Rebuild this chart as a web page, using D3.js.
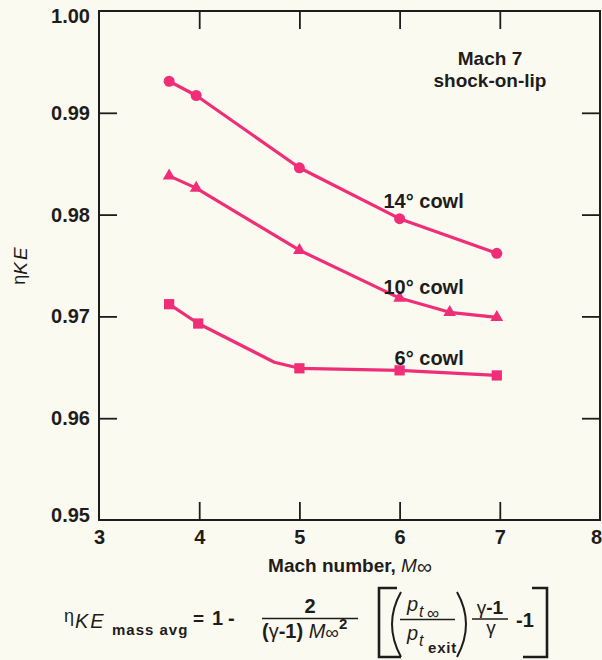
<!DOCTYPE html>
<html>
<head>
<meta charset="utf-8">
<script src="https://cdn.jsdelivr.net/npm/d3@7"></script>
<style>
  html, body { margin: 0; padding: 0; background: #fbfaf1; }
  svg { display: block; }
  text { font-family: "Liberation Sans", Arial, Helvetica, sans-serif; fill: #1f1d1b; }
</style>
</head>
<body>
<svg id="chart" width="602" height="660"></svg>
<script>
// Axis ticks
const machTicks = [3, 4, 5, 6, 7, 8];
const etaTicks = [0.95, 0.96, 0.97, 0.98, 0.99, 1.00];

// Kinetic-energy efficiency vs free-stream Mach number, one series per cowl angle
const cowl14Mach = [3.70, 3.97, 5.00, 6.00, 6.97];
const cowl14Eta  = [0.9931, 0.9917, 0.9846, 0.9796, 0.9762];

const cowl10Mach = [3.70, 3.97, 5.00, 6.00, 6.50, 6.97];
const cowl10Eta  = [0.9838, 0.9826, 0.9765, 0.9718, 0.9704, 0.9699];

const cowl6Mach = [3.70, 3.99, 5.00, 6.00, 6.97];
const cowl6Eta  = [0.9712, 0.9693, 0.9649, 0.9647, 0.9642];
// faired curve for the 6 deg cowl bends near M = 4.75 before levelling off
const cowl6FairMach = [3.70, 3.99, 4.75, 5.00, 6.00, 6.97];
const cowl6FairEta  = [0.9712, 0.9693, 0.9655, 0.9649, 0.9647, 0.9642];

const seriesLabels = ["14\u00B0 cowl", "10\u00B0 cowl", "6\u00B0 cowl"];

const pink = "#f02e78";
const ink = "#1f1d1b";

const svg = d3.select("#chart");
const plot = { left: 99, right: 600, top: 11, bottom: 520 };

const x = d3.scaleLinear().domain([3, 8]).range([plot.left, plot.right]);
const y = d3.scaleLinear().domain([0.95, 1.00]).range([plot.bottom, plot.top]);

const zip = (xs, ys) => xs.map((m, i) => ({ m, v: ys[i] }));

// ---- axes (inward ticks on all four sides) ----
const tickLen = 18;
const bottomAxis = d3.axisBottom(x).tickValues(machTicks).tickFormat(d3.format("d"))
  .tickSizeInner(-tickLen).tickSizeOuter(0).tickPadding(10);
const leftAxis = d3.axisLeft(y).tickValues(etaTicks).tickFormat(d3.format(".2f"))
  .tickSizeInner(-tickLen).tickSizeOuter(0).tickPadding(9);
const topAxis = d3.axisTop(x).tickValues(machTicks.slice(1, -1)).tickFormat("")
  .tickSizeInner(-tickLen).tickSizeOuter(0);
const rightAxis = d3.axisRight(y).tickValues(etaTicks.slice(1, -1)).tickFormat("")
  .tickSizeInner(-tickLen).tickSizeOuter(0);

function styleAxis(g) {
  g.select(".domain").remove();
  g.selectAll(".tick line").attr("stroke", ink).attr("stroke-width", 1.8);
  g.selectAll(".tick text")
    .attr("fill", ink)
    .style("font-size", "20px")
    .style("font-weight", "bold")
    .style("font-family", "'Liberation Sans', Arial, Helvetica, sans-serif");
}

const gB = svg.append("g").attr("transform", `translate(0,${plot.bottom})`).call(bottomAxis).call(styleAxis);
const gL = svg.append("g").attr("transform", `translate(${plot.left},0)`).call(leftAxis).call(styleAxis);
svg.append("g").attr("transform", `translate(0,${plot.top})`).call(topAxis).call(styleAxis);
svg.append("g").attr("transform", `translate(${plot.right},0)`).call(rightAxis).call(styleAxis);

// end labels sit just inside the frame corners
gL.selectAll(".tick").filter(d => d === 1.00).select("text").attr("y", 5.5);
gL.selectAll(".tick").filter(d => d === 0.95).select("text").attr("y", -5);
gB.selectAll(".tick").filter(d => d === 8).select("text").attr("x", -4);
gB.selectAll(".tick line").filter(d => d === 3 || d === 8).remove();
gL.selectAll(".tick line").filter(d => d === 0.95 || d === 1.00).remove();

// frame
svg.append("rect")
  .attr("x", plot.left).attr("y", plot.top)
  .attr("width", plot.right - plot.left).attr("height", plot.bottom - plot.top)
  .attr("fill", "none").attr("stroke", ink).attr("stroke-width", 2);

// ---- data lines ----
const line = d3.line().x(d => x(d.m)).y(d => y(d.v));

const lines = svg.append("g").attr("fill", "none").attr("stroke", pink)
  .attr("stroke-width", 3.2).attr("stroke-linejoin", "round").attr("stroke-linecap", "round");
lines.append("path").attr("d", line(zip(cowl14Mach, cowl14Eta)));
lines.append("path").attr("d", line(zip(cowl10Mach, cowl10Eta)));
lines.append("path").attr("d", line(zip(cowl6FairMach, cowl6FairEta)));

// ---- markers ----
const marks = svg.append("g").attr("fill", pink);
marks.selectAll("circle").data(zip(cowl14Mach, cowl14Eta)).join("circle")
  .attr("cx", d => x(d.m)).attr("cy", d => y(d.v)).attr("r", 5.5);
marks.selectAll("path.tri").data(zip(cowl10Mach, cowl10Eta)).join("path").attr("class", "tri")
  .attr("transform", d => `translate(${x(d.m)},${y(d.v)})`)
  .attr("d", d3.symbol(d3.symbolTriangle, 70));
marks.selectAll("path.sq").data(zip(cowl6Mach, cowl6Eta)).join("path").attr("class", "sq")
  .attr("transform", d => `translate(${x(d.m)},${y(d.v)})`)
  .attr("d", d3.symbol(d3.symbolSquare, 105));

// ---- series labels ----
const labelAnchors = [
  { m: 6.64, v: 0.9806 },
  { m: 6.64, v: 0.9722 },
  { m: 6.64, v: 0.9652 }
];
svg.append("g").selectAll("text").data(seriesLabels).join("text")
  .attr("x", (d, i) => x(labelAnchors[i].m))
  .attr("y", (d, i) => y(labelAnchors[i].v))
  .attr("text-anchor", "end")
  .style("font-size", "20px").style("font-weight", "bold")
  .text(d => d);

// condition note
const note = svg.append("text").attr("text-anchor", "middle")
  .style("font-size", "19px").style("font-weight", "bold");
note.append("tspan").attr("x", 490).attr("y", 65).text("Mach 7");
note.append("tspan").attr("x", 490).attr("y", 87).text("shock-on-lip");

// ---- axis titles ----
const xt = svg.append("text").attr("x", 350).attr("y", 572).attr("text-anchor", "middle")
  .style("font-size", "19px").style("font-weight", "bold");
xt.append("tspan").text("Mach number, ");
xt.append("tspan").style("font-style", "italic").style("font-weight", "normal").text("M");
xt.append("tspan").style("font-weight", "normal").style("font-size", "21px").attr("dy", 2).text("\u221E");

const yt = svg.append("text").attr("transform", "translate(27,265) rotate(-90)")
  .attr("text-anchor", "middle").style("font-size", "19px");
yt.append("tspan").attr("dy", -2).style("font-size", "18px").text("\u03B7");
yt.append("tspan").attr("dy", 2).style("font-style", "italic").attr("letter-spacing", 2).text("KE");

// ---- defining relation below the chart ----
const eq = svg.append("g");
const txt = (xx, yy, s, size, opts = {}) => {
  const t = eq.append("text").attr("x", xx).attr("y", yy).style("font-size", size + "px")
    .style("font-weight", opts.weight || "bold").style("font-style", opts.italic ? "italic" : "normal")
    .attr("text-anchor", opts.anchor || "start").text(s);
  if (opts.ls) t.attr("letter-spacing", opts.ls);
  return t;
};
// left-hand side
txt(64, 622, "\u03B7", 18, { weight: "normal" });
txt(75, 628, "KE", 20, { weight: "normal", italic: true, ls: 2 });
txt(112, 635, "mass avg", 15, { ls: 1 });
txt(193, 625, "=", 19);
txt(212, 625, "1", 20);
txt(228, 625, "-", 20);

// first fraction
txt(310, 613, "2", 20, { anchor: "middle" });
eq.append("line").attr("x1", 262).attr("x2", 358).attr("y1", 618.5).attr("y2", 618.5)
  .attr("stroke", ink).attr("stroke-width", 1.6);
const den = eq.append("text").attr("x", 262).attr("y", 638).style("font-size", "20px").style("font-weight", "bold");
den.append("tspan").text("(");
den.append("tspan").style("font-weight", "normal").text("\u03B3");
den.append("tspan").text("-1) ");
den.append("tspan").style("font-weight", "normal").style("font-style", "italic").text("M");
den.append("tspan").style("font-weight", "normal").style("font-size", "19px").attr("dy", 1).text("\u221E");
den.append("tspan").style("font-size", "15px").attr("dy", -10).text("2");

// square brackets
const bracket = eq.append("g").attr("fill", "none").attr("stroke", ink).attr("stroke-width", 2.6);
bracket.append("path").attr("d", "M397,588 H379 V657 H401");
bracket.append("path").attr("d", "M532,588 H547 V657 H523");

// parentheses around pressure ratio
const paren = eq.append("g").attr("fill", "none").attr("stroke", ink).attr("stroke-width", 2);
paren.append("path").attr("d", "M401,592 Q383,624 401,657");
paren.append("path").attr("d", "M457,592 Q475,624 457,657");

// pressure ratio
txt(407, 611, "p", 20, { weight: "normal", italic: true });
txt(419, 617, "t", 16, { weight: "normal", italic: true });
txt(427, 619, "\u221E", 17, { weight: "normal" });
eq.append("line").attr("x1", 400).attr("x2", 455).attr("y1", 619.5).attr("y2", 619.5)
  .attr("stroke", ink).attr("stroke-width", 1.6);
txt(407, 640, "p", 20, { weight: "normal", italic: true });
txt(419, 646, "t", 16, { weight: "normal", italic: true });
txt(428, 653, "exit", 15, { ls: 0.8 });

// exponent fraction
const num = eq.append("text").attr("x", 490).attr("y", 614).attr("text-anchor", "middle")
  .style("font-size", "19px").style("font-weight", "bold");
num.append("tspan").style("font-weight", "normal").text("\u03B3");
num.append("tspan").text("-1");
eq.append("line").attr("x1", 472).attr("x2", 508).attr("y1", 619).attr("y2", 619)
  .attr("stroke", ink).attr("stroke-width", 1.6);
txt(491, 634, "\u03B3", 19, { weight: "normal", anchor: "middle" });
txt(516, 627, "-1", 20);
</script>
</body>
</html>
